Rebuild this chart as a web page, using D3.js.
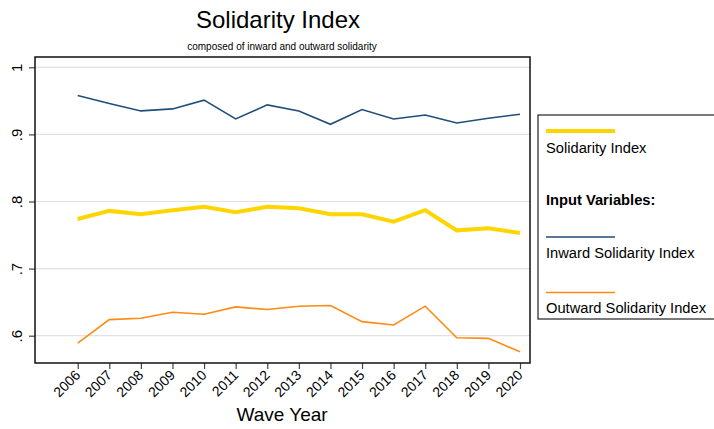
<!DOCTYPE html>
<html>
<head>
<meta charset="utf-8">
<script src="https://cdn.jsdelivr.net/npm/d3@7"></script>
<style>
	body { margin: 0; background: #fff; }
	text { font-family: "Liberation Sans", Arial, sans-serif; fill: #000; }
</style>
</head>
<body>
<svg></svg>
<script>
var WIDTH = 714;
var HEIGHT = 429;

// data
var years = [2006, 2007, 2008, 2009, 2010, 2011, 2012, 2013, 2014, 2015, 2016, 2017, 2018, 2019, 2020];
var solidarity = [0.774, 0.786, 0.781, 0.787, 0.792, 0.784, 0.792, 0.790, 0.781, 0.781, 0.770, 0.787, 0.757, 0.760, 0.753];
var inward = [0.958, 0.946, 0.935, 0.938, 0.951, 0.923, 0.944, 0.935, 0.915, 0.937, 0.923, 0.929, 0.917, 0.924, 0.930];
var outward = [0.589, 0.624, 0.626, 0.635, 0.632, 0.643, 0.639, 0.644, 0.645, 0.621, 0.616, 0.644, 0.597, 0.596, 0.576];
var yTicks = [0.6, 0.7, 0.8, 0.9, 1];
var yTickLabels = ['.6', '.7', '.8', '.9', '1'];

var svg = d3.select('svg')
	.attr('width', WIDTH)
	.attr('height', HEIGHT);

var plot = { left: 35, right: 530, top: 57, bottom: 363 };

var x = d3.scaleLinear().domain([2006, 2020]).range([77.7, 520]);
var y = d3.scaleLinear().domain([0.6, 1]).range([335.7, 67.3]);

// title
svg.append('text')
	.attr('x', 278).attr('y', 28)
	.attr('text-anchor', 'middle')
	.style('font-size', '24px')
	.text('Solidarity Index');
svg.append('text')
	.attr('x', 282).attr('y', 50)
	.attr('text-anchor', 'middle')
	.style('font-size', '10px')
	.text('composed of inward and outward solidarity');

// gridlines
svg.append('g').selectAll('line')
	.data(yTicks)
	.enter().append('line')
	.attr('x1', plot.left).attr('x2', plot.right)
	.attr('y1', function(d){ return y(d); })
	.attr('y2', function(d){ return y(d); })
	.attr('stroke', '#e1e1e1')
	.attr('stroke-width', 1.2);

// y axis
var leftAxis = d3.axisLeft(y)
	.tickValues(yTicks)
	.tickSize(6)
	.tickFormat(function(d, i){ return yTickLabels[i]; });
var yAxis = svg.append('g')
	.attr('transform', 'translate(' + plot.left + ',0)')
	.call(leftAxis);
yAxis.select('.domain').remove();
yAxis.selectAll('line').attr('stroke', '#444').attr('stroke-width', 1.2);
yAxis.selectAll('text')
	.style('font-size', '15px')
	.style('font-family', '"Liberation Sans", Arial, sans-serif')
	.attr('text-anchor', 'middle')
	.attr('x', 0).attr('dy', 0)
	.attr('transform', 'translate(-13,0) rotate(-90)');

// x axis
var bottomAxis = d3.axisBottom(x)
	.tickValues(years)
	.tickSize(6)
	.tickFormat(d3.format('d'));
var xAxis = svg.append('g')
	.attr('transform', 'translate(0,' + plot.bottom + ')')
	.call(bottomAxis);
xAxis.select('.domain').remove();
xAxis.selectAll('line').attr('stroke', '#444').attr('stroke-width', 1.2);
xAxis.selectAll('text')
	.style('font-size', '14px')
	.style('font-family', '"Liberation Sans", Arial, sans-serif')
	.attr('text-anchor', 'end')
	.attr('y', 0).attr('dy', 0)
	.attr('transform', 'translate(3,13) rotate(-45)');

svg.append('text')
	.attr('x', 282).attr('y', 421)
	.attr('text-anchor', 'middle')
	.style('font-size', '19px')
	.text('Wave Year');

// lines
var series = [
	{ values: solidarity, color: '#ffd500', width: 4 },
	{ values: inward, color: '#1f4e7a', width: 1.6 },
	{ values: outward, color: '#ff8a14', width: 1.6 }
];
var line = d3.line()
	.x(function(d, i){ return x(years[i]); })
	.y(function(d){ return y(d); });
svg.append('g').selectAll('path')
	.data(series)
	.enter().append('path')
	.attr('d', function(s){ return line(s.values); })
	.attr('fill', 'none')
	.attr('stroke', function(s){ return s.color; })
	.attr('stroke-width', function(s){ return s.width; })
	.attr('stroke-linejoin', 'miter');

// frame
svg.append('rect')
	.attr('x', plot.left).attr('y', plot.top)
	.attr('width', plot.right - plot.left)
	.attr('height', plot.bottom - plot.top)
	.attr('fill', 'none')
	.attr('stroke', '#111')
	.attr('stroke-width', 1.5);

// legend
var legend = svg.append('g');
legend.append('rect')
	.attr('x', 538).attr('y', 115)
	.attr('width', 180).attr('height', 204)
	.attr('fill', '#fff')
	.attr('stroke', '#222')
	.attr('stroke-width', 1.2);
var legendItems = [
	{ label: 'Solidarity Index', color: '#ffd500', width: 4, lineY: 131, textY: 153 },
	{ label: 'Input Variables:', bold: true, textY: 205 },
	{ label: 'Inward Solidarity Index', color: '#1f4e7a', width: 1.6, lineY: 237, textY: 258 },
	{ label: 'Outward Solidarity Index', color: '#ff8a14', width: 1.6, lineY: 292.5, textY: 313 }
];
legendItems.forEach(function(item){
	if (item.color) {
		legend.append('line')
			.attr('x1', 546).attr('x2', 615)
			.attr('y1', item.lineY).attr('y2', item.lineY)
			.attr('stroke', item.color)
			.attr('stroke-width', item.width);
	}
	legend.append('text')
		.attr('x', 546).attr('y', item.textY)
		.style('font-size', '14.7px')
		.style('font-weight', item.bold ? 'bold' : 'normal')
		.text(item.label);
});
</script>
</body>
</html>
